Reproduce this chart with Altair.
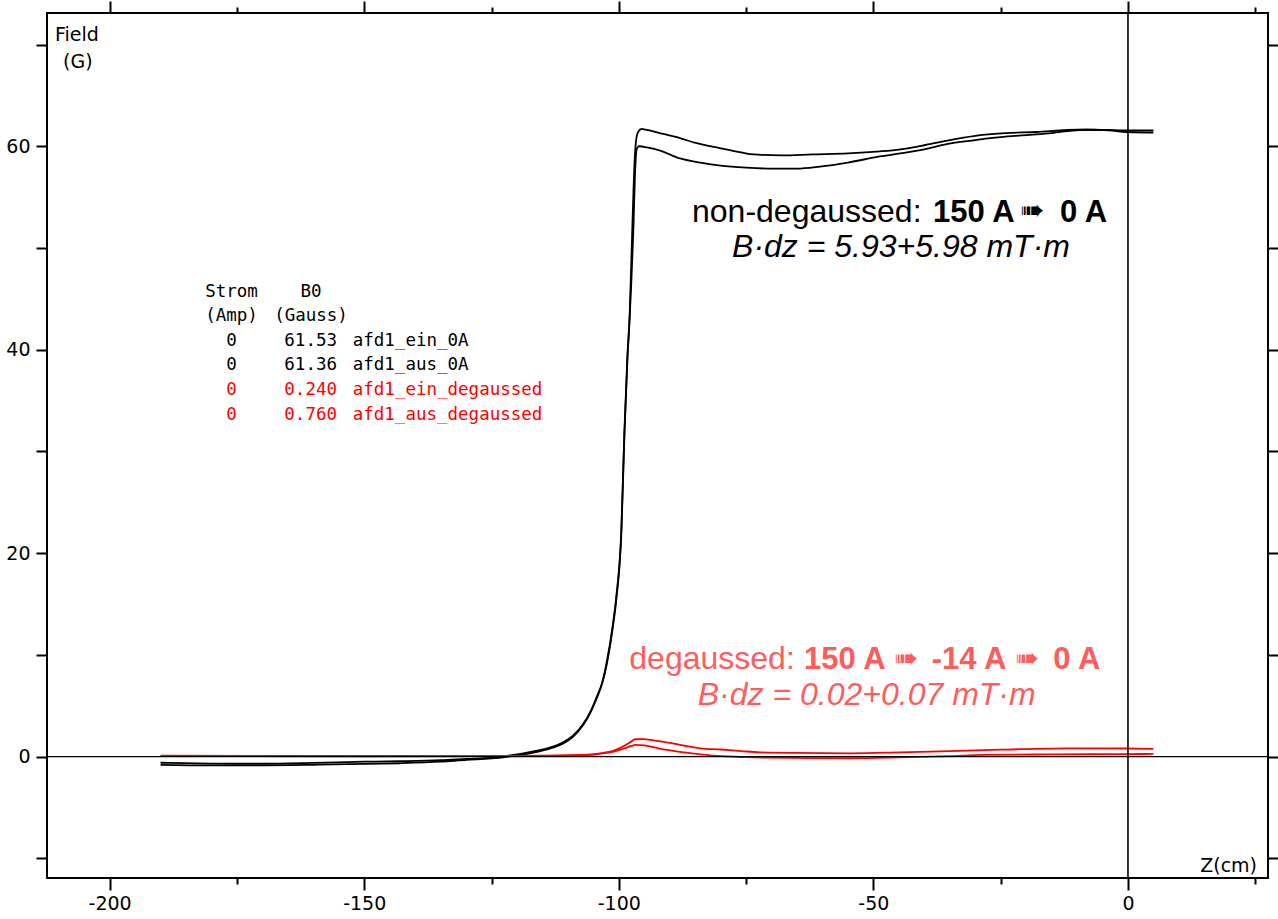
import altair as alt
import pandas as pd

# ---------------- data ----------------
z_ein_0A = [-190, -180, -170, -160, -150, -143, -135, -129.9, -125, -122, -119, -116, -113, -111, -109, -107,
            -105.5, -104.3, -103.2, -102.4, -101.3, -100.5, -99.5, -98.9, -98.3, -97.9, -97.3, -96.9, -96.6,
            -96.2, -95.5, -94.5, -92, -88, -84.7, -80, -76, -73.6, -68, -62, -55, -48.7, -44.7, -40, -35,
            -29, -24, -18, -12, -8, -4, 0, 5]
B_ein_0A = [-0.6, -0.68, -0.7, -0.62, -0.5, -0.45, -0.35, -0.22, -0.1, 0.08, 0.3, 0.58, 0.98, 1.38, 2.05, 3.2,
            4.5, 5.9, 7.4, 9.2, 12.5, 15.7, 22.3, 32.0, 39.5, 43.0, 52.7, 58.5, 60.6,
            61.4, 61.7, 61.6, 61.3, 60.8, 60.3, 59.8, 59.4, 59.2, 59.1, 59.2, 59.3, 59.5, 59.7, 60.1, 60.6,
            61.1, 61.3, 61.4, 61.6, 61.65, 61.6, 61.55, 61.55]

z_aus_0A = [-190, -180, -170, -160, -150, -143, -135, -129.9, -125, -122, -119, -116, -113, -111, -109, -107,
            -105.5, -104.3, -103.2, -102.4, -101.3, -100.5, -99.5, -98.9, -98.3, -97.9, -97.1, -96.8, -96.5,
            -96.0, -94.5, -92, -88, -84, -80, -75, -70, -65, -60.5, -55, -48.7, -44.7, -40, -35.6, -30,
            -27, -20, -15, -9.4, -5, 0, 5]
B_aus_0A = [-0.8, -0.85, -0.85, -0.8, -0.72, -0.65, -0.5, -0.32, -0.18, -0.02, 0.2, 0.48, 0.88, 1.28, 1.95, 3.1,
            4.4, 5.8, 7.3, 9.0, 12.3, 15.4, 22.0, 31.6, 39.2, 42.8, 52.5, 57.5, 59.7,
            60.0, 59.9, 59.6, 58.8, 58.4, 58.1, 57.9, 57.8, 57.8, 58.0, 58.4, 59.0, 59.3, 59.7, 60.2, 60.6,
            60.8, 61.1, 61.3, 61.6, 61.6, 61.4, 61.35]

z_ein_deg = [-190, -150, -120, -106, -103.6, -101, -99, -97.5, -96.8, -95, -93, -90.6, -86, -80.7, -75,
             -70.9, -60, -54.5, -45, -35, -28.4, -15, 0, 5]
B_ein_deg = [0.05, 0.04, 0.05, 0.15, 0.3, 0.5, 0.8, 1.05, 1.15, 1.1, 0.9, 0.66, 0.35, 0.07, -0.05,
             -0.1, -0.15, -0.16, -0.08, 0.05, 0.17, 0.22, 0.25, 0.27]

z_aus_deg = [-190, -170, -150, -130, -115, -106, -103.6, -101, -99, -97.5, -96.8, -95, -93.8, -90, -86,
             -84, -80, -76, -72.3, -65, -54.5, -45, -35, -25, -12, 0, 5]
B_aus_deg = [0.1, 0.08, 0.08, 0.06, 0.1, 0.2, 0.33, 0.6, 1.05, 1.5, 1.71, 1.72, 1.64, 1.35, 0.98,
             0.82, 0.7, 0.55, 0.42, 0.36, 0.33, 0.42, 0.55, 0.68, 0.82, 0.8, 0.76]

series_names = ["afd1_ein_0A", "afd1_aus_0A", "afd1_ein_degaussed", "afd1_aus_degaussed"]
series_colors = ["black", "black", "#ff0000", "#ff0000"]

# legend table
strom_vals = ["0", "0", "0", "0"]
b0_vals = ["61.53", "61.36", "0.240", "0.760"]

x_ticks = list(range(-200, 26, 25))
y_ticks = list(range(-10, 71, 10))
x_domain = [-212.3, 27.5]
y_domain = [-11.93, 73.1]

# ---------------- build table ----------------
frames = []
for name, zs, bs in [(series_names[0], z_ein_0A, B_ein_0A), (series_names[1], z_aus_0A, B_aus_0A),
                     (series_names[2], z_ein_deg, B_ein_deg), (series_names[3], z_aus_deg, B_aus_deg)]:
    frames.append(pd.DataFrame({"z": zs, "B": bs, "series": name}))
df = pd.concat(frames, ignore_index=True)

W, H = 1221, 865
AX_FONT = "DejaVu Sans"
MONO = "DejaVu Sans Mono"
ANN_FONT = "Liberation Sans"
RED_TXT = "#ff5c5c"

xscale = alt.Scale(domain=x_domain, nice=False, zero=False)
yscale = alt.Scale(domain=y_domain, nice=False, zero=False)
color = alt.Color("series:N", scale=alt.Scale(domain=series_names, range=series_colors), legend=None)

x_major = {"condition": {"test": "datum.value % 50 === 0", "value": 12}, "value": 6}

lines = alt.Chart(df).mark_line(strokeWidth=1.8, interpolate="monotone").encode(
    x=alt.X("z:Q", scale=xscale, title=None,
            axis=alt.Axis(values=x_ticks, orient="bottom", tickSize=x_major,
                          labelExpr="datum.value % 50 === 0 ? '' + datum.value : ''",
                          labelPadding=4, labelFontSize=19)),
    y=alt.Y("B:Q", scale=yscale, title=None,
            axis=alt.Axis(values=y_ticks, orient="left", tickSize=11,
                          labelExpr="datum.value % 20 === 0 ? '' + datum.value : ''",
                          labelPadding=6, labelFontSize=19)),
    color=color,
    detail="series:N",
)

frame_axes = alt.Chart(df).mark_line(opacity=0).encode(
    x=alt.X("z:Q", scale=xscale, title=None,
            axis=alt.Axis(values=x_ticks, orient="top", tickSize=x_major, labels=False)),
    y=alt.Y("B:Q", scale=yscale, title=None,
            axis=alt.Axis(values=y_ticks, orient="right", tickSize=11, labels=False)),
    detail="series:N",
)

zero_h = alt.Chart().mark_rule(color="black", strokeWidth=1.3).encode(
    y=alt.YDatum(0, scale=yscale, axis=None))
zero_v = alt.Chart().mark_rule(color="black", strokeWidth=1.6).encode(
    x=alt.XDatum(0, scale=xscale, axis=None))


def txt(text, x, y, align="left", baseline="alphabetic", color="black", font=AX_FONT, size=18,
        weight="normal", style="normal"):
    return alt.Chart().mark_text(text=text, align=align, baseline=baseline, color=color, font=font,
                                 fontSize=size, fontWeight=weight, fontStyle=style).encode(
        x=alt.value(x), y=alt.value(y))


layers = [lines, frame_axes, zero_h, zero_v]

# axis titles inside the frame
layers.append(txt("Field", 8, 22, baseline="middle", size=19))
layers.append(txt("(G)", 16, 49, baseline="middle", size=19))
layers.append(txt("Z(cm)", 1210, 859, align="right", size=19))

# legend table
LS = 17.5
LROW = [279, 303, 328, 352, 377, 402]
layers.append(txt("Strom", 184.5, LROW[0], align="center", baseline="middle", font=MONO, size=LS))
layers.append(txt("(Amp)", 184.5, LROW[1], align="center", baseline="middle", font=MONO, size=LS))
layers.append(txt("B0", 264, LROW[0], align="center", baseline="middle", font=MONO, size=LS))
layers.append(txt("(Gauss)", 264, LROW[1], align="center", baseline="middle", font=MONO, size=LS))
for i in range(4):
    c = "black" if i < 2 else "#ff0000"
    yy = LROW[i + 2]
    layers.append(txt(strom_vals[i], 184.5, yy, align="center", baseline="middle", font=MONO, size=LS, color=c))
    layers.append(txt(b0_vals[i], 290, yy, align="right", baseline="middle", font=MONO, size=LS, color=c))
    layers.append(txt(series_names[i], 305.7, yy, align="left", baseline="middle", font=MONO, size=LS, color=c))

# annotations
ARROW = "\u27a0"
FS = 32
FB = 31
FA = 29
layers.append(txt("non-degaussed:", 645, 208.5, font=ANN_FONT, size=FS))
layers.append(txt("150 A", 886, 208.5, font=ANN_FONT, size=FB, weight="bold"))
layers.append(txt(ARROW, 973, 207, font="DejaVu Sans", size=FA))
layers.append(txt("0 A", 1013, 208.5, font=ANN_FONT, size=FB, weight="bold"))
layers.append(txt("B\u00b7dz = 5.93+5.98 mT\u00b7m", 854, 244, align="center", font=ANN_FONT, size=FS,
                  style="italic"))

layers.append(txt("degaussed:", 582.3, 656.3, font=ANN_FONT, size=FS, color=RED_TXT))
layers.append(txt("150 A", 757, 656.3, font=ANN_FONT, size=FB, weight="bold", color=RED_TXT))
layers.append(txt(ARROW, 847, 655, font="DejaVu Sans", size=FA, color=RED_TXT))
layers.append(txt("-14 A", 884.7, 656.3, font=ANN_FONT, size=FB, weight="bold", color=RED_TXT))
layers.append(txt(ARROW, 968, 655, font="DejaVu Sans", size=FA, color=RED_TXT))
layers.append(txt("0 A", 1006.3, 656.3, font=ANN_FONT, size=FB, weight="bold", color=RED_TXT))
layers.append(txt("B\u00b7dz = 0.02+0.07 mT\u00b7m", 819.7, 692, align="center", font=ANN_FONT, size=FS,
                  style="italic", color=RED_TXT))

chart = alt.layer(*layers).resolve_axis(x="independent", y="independent").properties(
    width=W, height=H,
    autosize=alt.AutoSizeParams(type="none"),
    padding={"left": 47, "top": 13, "right": 10, "bottom": 41},
    background="white",
).configure_view(stroke="black", strokeWidth=2).configure_axis(
    grid=False, domain=False, tickColor="black", tickWidth=2, labelColor="black", labelFont=AX_FONT,
    labelFontSize=19,
)

chart.save("out.html", embed_options={"renderer": "svg", "actions": False})
